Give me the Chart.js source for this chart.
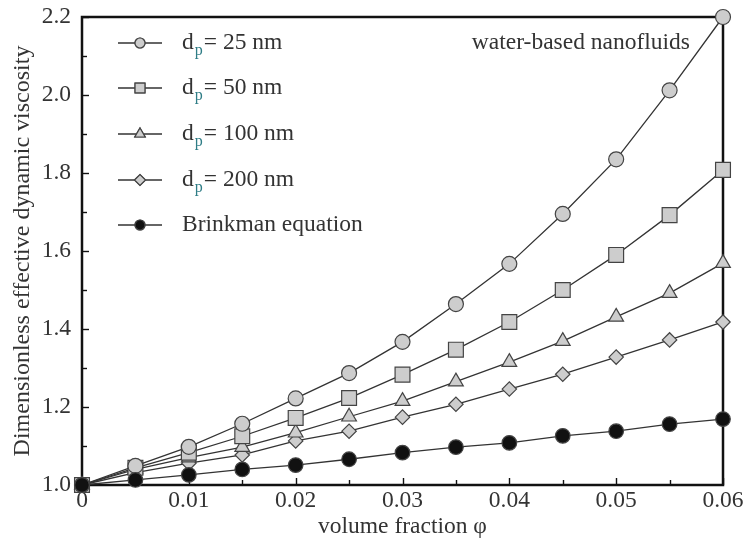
<!DOCTYPE html>
<html>
<head>
<meta charset="utf-8">
<script src="https://cdn.jsdelivr.net/npm/chart.js@4/dist/chart.umd.min.js"></script>
<style>
  html, body { margin: 0; padding: 0; background: #fff; }
  #wrap { width: 748px; height: 545px; }
</style>
</head>
<body>
<div id="wrap"><canvas id="visc"></canvas></div>
<script>
// volume fraction values (x)
const phi = [0, 0.005, 0.01, 0.015, 0.02, 0.025, 0.03, 0.035, 0.04, 0.045, 0.05, 0.055, 0.06];
// dimensionless effective dynamic viscosity per particle size
const d25 = [1.0, 1.049, 1.098, 1.157, 1.222, 1.287, 1.367, 1.464, 1.567, 1.695, 1.835, 2.012, 2.2];
const d50 = [1.0, 1.044, 1.083, 1.125, 1.172, 1.223, 1.283, 1.347, 1.418, 1.5, 1.59, 1.692, 1.808];
const d100 = [1.0, 1.04, 1.07, 1.097, 1.134, 1.175, 1.215, 1.265, 1.315, 1.369, 1.431, 1.492, 1.569];
const d200 = [1.0, 1.032, 1.056, 1.077, 1.113, 1.138, 1.174, 1.207, 1.246, 1.284, 1.328, 1.372, 1.418];
const brinkman = [1.0, 1.013, 1.026, 1.04, 1.051, 1.066, 1.083, 1.097, 1.108, 1.126, 1.138, 1.156, 1.169];

const legendSizes = ['25', '50', '100', '200'];
const xTicks = [0, 0.01, 0.02, 0.03, 0.04, 0.05, 0.06];
const yTicks = [1.0, 1.2, 1.4, 1.6, 1.8, 2.0, 2.2];

const SERIF = '"Liberation Serif", "DejaVu Serif", serif';
const INK = '#333';
const GREY = '#cdcdcd';
const TXT = '#333';

function pts(ys) {
  return phi.map((x, i) => ({ x: x, y: ys[i] }));
}

function series(label, ys, style, radius, legendRadius, fill, order) {
  return {
    label: label,
    data: pts(ys),
    borderColor: INK,
    borderWidth: 1.3,
    pointStyle: style,
    pointRadius: radius,
    pointHoverRadius: radius,
    pointBackgroundColor: fill,
    pointBorderColor: '#444',
    pointBorderWidth: 1.2,
    legendRadius: legendRadius,
    tension: 0,
    clip: false,
    order: order
  };
}

// frame + inward ticks
const framePlugin = {
  id: 'frame',
  beforeDatasetsDraw(chart) {
    const { ctx, chartArea: a, scales } = chart;
    ctx.save();
    ctx.strokeStyle = '#111';
    ctx.lineWidth = 1.4;
    for (let i = 0; i <= 12; i++) {
      const v = i * 0.005;
      const px = Math.round(scales.x.getPixelForValue(v)) + 0.5;
      const len = i % 2 === 0 ? 7 : 5;
      ctx.beginPath();
      ctx.moveTo(px, a.bottom);
      ctx.lineTo(px, a.bottom - len);
      ctx.stroke();
    }
    for (let i = 0; i <= 12; i++) {
      const v = 1.0 + i * 0.1;
      const py = Math.round(scales.y.getPixelForValue(v)) + 0.5;
      const len = i % 2 === 0 ? 7 : 5;
      ctx.beginPath();
      ctx.moveTo(a.left, py);
      ctx.lineTo(a.left + len, py);
      ctx.stroke();
    }
    ctx.lineWidth = 2.5;
    ctx.strokeRect(a.left, a.top, a.right - a.left, a.bottom - a.top);
    ctx.restore();
  }
};

// in-plot legend and note
const notePlugin = {
  id: 'note',
  afterDraw(chart) {
    const { ctx } = chart;
    const rows = [43, 88, 134, 180, 225];
    ctx.save();
    ctx.textBaseline = 'middle';
    chart.data.datasets.forEach((ds, i) => {
      const y = rows[i];
      ctx.strokeStyle = INK;
      ctx.lineWidth = 1.3;
      ctx.beginPath();
      ctx.moveTo(118, y);
      ctx.lineTo(162, y);
      ctx.stroke();
      ctx.fillStyle = ds.pointBackgroundColor;
      ctx.strokeStyle = '#444';
      ctx.lineWidth = 1.2;
      Chart.helpers.drawPoint(ctx, {
        pointStyle: ds.pointStyle,
        radius: ds.legendRadius,
        borderWidth: 1.2
      }, 140, y);
      ctx.fill();
      ctx.stroke();
      ctx.fillStyle = TXT;
      let x = 182;
      if (i < legendSizes.length) {
        ctx.font = '23.5px ' + SERIF;
        ctx.fillText('d', x, y);
        x += ctx.measureText('d').width + 1;
        ctx.font = '16px ' + SERIF;
        ctx.fillStyle = '#2f7d86';
        ctx.fillText('p', x, y + 8);
        x += ctx.measureText('p').width + 1;
        ctx.font = '23.5px ' + SERIF;
        ctx.fillStyle = TXT;
        ctx.fillText('= ' + legendSizes[i] + ' nm', x, y);
      } else {
        ctx.font = '23.5px ' + SERIF;
        ctx.fillText('Brinkman equation', x, y);
      }
    });
    ctx.font = '23.5px ' + SERIF;
    ctx.fillStyle = TXT;
    ctx.textAlign = 'right';
    ctx.fillText('water-based nanofluids', 690, 43);
    ctx.restore();
  }
};

new Chart(document.getElementById('visc'), {
  type: 'line',
  data: {
    datasets: [
      series('d_p = 25 nm', d25, 'circle', 7.5, 5, GREY, 1),
      series('d_p = 50 nm', d50, 'rect', 10.5, 7, GREY, 2),
      series('d_p = 100 nm', d100, 'triangle', 8.5, 6, GREY, 3),
      series('d_p = 200 nm', d200, 'rectRot', 7.2, 5.5, GREY, 4),
      series('Brinkman equation', brinkman, 'circle', 7.3, 5, '#111', 0)
    ]
  },
  options: {
    responsive: true,
    maintainAspectRatio: false,
    animation: false,
    events: [],
    layout: { padding: { top: 17, right: 25, left: 0, bottom: 0 } },
    plugins: {
      legend: { display: false },
      tooltip: { enabled: false }
    },
    scales: {
      x: {
        type: 'linear',
        min: 0,
        max: 0.06,
        afterBuildTicks(scale) { scale.ticks = xTicks.map(v => ({ value: v })); },
        afterFit(scale) {
          scale.height = 60;
          scale.paddingLeft = 0;
          scale.paddingRight = 0;
        },
        grid: { display: false, drawTicks: false },
        border: { display: false },
        ticks: {
          padding: 2,
          maxRotation: 0,
          autoSkip: false,
          color: TXT,
          font: { family: SERIF, size: 23.5 },
          callback: v => (v === 0 ? '0' : v.toFixed(2))
        },
        title: {
          display: true,
          text: 'volume fraction φ',
          color: TXT,
          font: { family: SERIF, size: 23.5 },
          padding: { top: 0, bottom: 4 }
        }
      },
      y: {
        min: 1.0,
        max: 2.2,
        afterBuildTicks(scale) { scale.ticks = yTicks.map(v => ({ value: v })); },
        afterFit(scale) {
          scale.width = 82;
          scale.paddingTop = 0;
          scale.paddingBottom = 0;
        },
        grid: { display: false, drawTicks: false },
        border: { display: false },
        ticks: {
          padding: 11,
          autoSkip: false,
          color: TXT,
          font: { family: SERIF, size: 23.5 },
          callback: v => v.toFixed(1)
        },
        title: {
          display: true,
          text: 'Dimensionless effective dynamic viscosity',
          color: TXT,
          font: { family: SERIF, size: 24 },
          padding: { top: 8, bottom: 0 }
        }
      }
    }
  },
  plugins: [framePlugin, notePlugin]
});
</script>
</body>
</html>
